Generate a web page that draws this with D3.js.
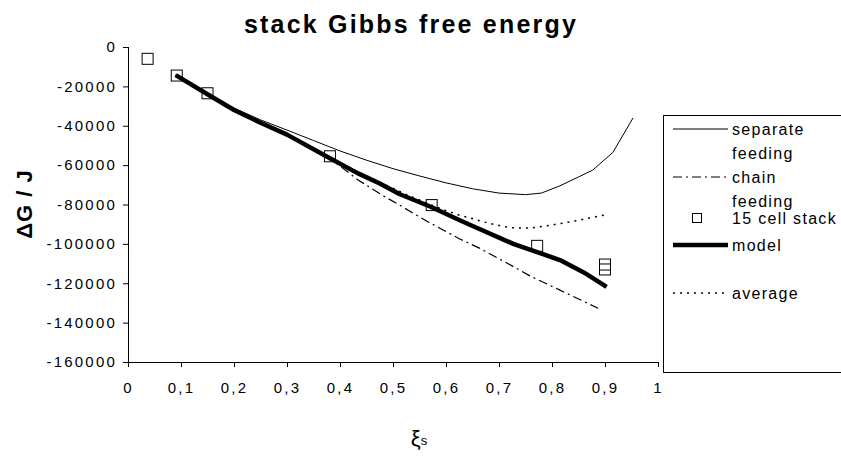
<!DOCTYPE html>
<html>
<head>
<meta charset="utf-8">
<script src="https://cdn.jsdelivr.net/npm/d3@7"></script>
<style>
  html, body { margin: 0; padding: 0; background: #fff; }
  svg { display: block; font-family: "Liberation Sans", Arial, sans-serif; }
</style>
</head>
<body>
<svg id="chart" width="841" height="456"></svg>
<script>
// ---- data ----
const sepXi = [0.09, 0.15, 0.2, 0.25, 0.3, 0.35, 0.4, 0.45, 0.5, 0.55, 0.6, 0.65, 0.7, 0.75, 0.78, 0.815, 0.85, 0.877, 0.915, 0.953];
const sepG  = [-14000, -23500, -31000, -37000, -42200, -47500, -52800, -57500, -61800, -65500, -69000, -72000, -74200, -75000, -74200, -70500, -66000, -62500, -53500, -36000];

const chainXi = [0.09, 0.15, 0.2, 0.3, 0.381, 0.4, 0.434, 0.481, 0.509, 0.564, 0.626, 0.664, 0.72, 0.76, 0.815, 0.887];
const chainG  = [-14200, -24000, -32000, -44000, -56500, -60500, -67500, -75500, -79800, -88500, -97500, -102300, -110500, -116500, -123500, -132700];

const stackXi = [0.037, 0.092, 0.15, 0.381, 0.573, 0.772, 0.9, 0.9];
const stackG  = [-6000, -14500, -23500, -55500, -80300, -101000, -110500, -113000];

const modelXi = [0.09, 0.15, 0.2, 0.25, 0.3, 0.381, 0.434, 0.475, 0.513, 0.57, 0.626, 0.645, 0.727, 0.765, 0.815, 0.86, 0.903];
const modelG  = [-14300, -24000, -32000, -38500, -44500, -56500, -64200, -69300, -74800, -81000, -88000, -90300, -100000, -103500, -108200, -114500, -121800];

const avgXi = [0.09, 0.15, 0.2, 0.3, 0.381, 0.47, 0.53, 0.589, 0.626, 0.645, 0.68, 0.721, 0.76, 0.809, 0.85, 0.9];
const avgG  = [-14300, -24000, -32000, -44500, -56500, -68000, -75500, -82000, -85500, -86800, -89500, -91800, -92000, -90000, -88000, -85300];

const xTicks = [0, 0.1, 0.2, 0.3, 0.4, 0.5, 0.6, 0.7, 0.8, 0.9, 1];
const xTickLabels = ["0", "0,1", "0,2", "0,3", "0,4", "0,5", "0,6", "0,7", "0,8", "0,9", "1"];
const yTicks = [0, -20000, -40000, -60000, -80000, -100000, -120000, -140000, -160000];
const yTickLabels = ["0", "-20000", "-40000", "-60000", "-80000", "-100000", "-120000", "-140000", "-160000"];

const legendLabels = [["separate", "feeding"], ["chain", "feeding"], ["15 cell stack"], ["model"], ["average"]];

// ---- layout ----
const svg = d3.select("#chart");
const x = d3.scaleLinear().domain([0, 1]).range([128, 658]);
const y = d3.scaleLinear().domain([-160000, 0]).range([362, 47]);

const zip = (xs, ys) => xs.map((v, i) => [v, ys[i]]);
const line = d3.line().x(d => x(d[0])).y(d => y(d[1]));

// title
svg.append("text")
  .attr("x", 411).attr("y", 33)
  .attr("text-anchor", "middle")
  .style("font-size", "25px").style("font-weight", "bold").style("letter-spacing", "2.2px")
  .text("stack Gibbs free energy");

// axes
const yAxis = d3.axisLeft(y).tickValues(yTicks).tickSize(5).tickPadding(6)
  .tickFormat((d, i) => yTickLabels[i]);
const gy = svg.append("g").attr("transform", "translate(128,0)").call(yAxis);
const xAxis = d3.axisBottom(x).tickValues(xTicks).tickSize(5).tickPadding(15)
  .tickFormat((d, i) => xTickLabels[i]);
const gx = svg.append("g").attr("transform", "translate(0,362)").call(xAxis);

[gx, gy].forEach(g => {
  g.select(".domain").attr("stroke", "#000").attr("stroke-width", 1);
  g.selectAll(".tick line").attr("stroke", "#000");
  g.selectAll("text").attr("fill", "#000")
    .style("font-family", "'Liberation Sans', Arial, sans-serif")
    .style("font-size", "15px").style("letter-spacing", "2.2px");
});
gy.selectAll(".domain").attr("d", "M0.5,47V362.5");
gx.selectAll(".domain").attr("d", "M128,0.5H658.5");

// axis titles
svg.append("text")
  .attr("transform", "translate(32,204) rotate(-90)")
  .attr("text-anchor", "middle")
  .style("font-size", "22px").style("font-weight", "bold").style("letter-spacing", "1px")
  .text("ΔG / J");

const xl = svg.append("text").attr("x", 419).attr("y", 446).attr("text-anchor", "middle");
xl.append("tspan").style("font-size", "22px").text("ξ");
xl.append("tspan").style("font-size", "13px").attr("dy", -1).text("s");

// series
const plot = svg.append("g");
plot.append("path").datum(zip(sepXi, sepG)).attr("d", line)
  .attr("fill", "none").attr("stroke", "#000").attr("stroke-width", 1);
plot.append("path").datum(zip(chainXi, chainG)).attr("d", line)
  .attr("fill", "none").attr("stroke", "#000").attr("stroke-width", 1.2)
  .attr("stroke-dasharray", "9,4,2,4");
plot.selectAll("rect.pt").data(zip(stackXi, stackG)).join("rect")
  .attr("class", "pt")
  .attr("x", d => x(d[0]) - 5.5).attr("y", d => y(d[1]) - 5.5)
  .attr("width", 11).attr("height", 11)
  .attr("fill", "none").attr("stroke", "#000").attr("stroke-width", 1);
plot.append("path").datum(zip(modelXi, modelG)).attr("d", line)
  .attr("fill", "none").attr("stroke", "#000").attr("stroke-width", 4.5)
  .attr("stroke-linejoin", "round");
plot.append("path").datum(zip(avgXi, avgG)).attr("d", line)
  .attr("fill", "none").attr("stroke", "#000").attr("stroke-width", 1.5)
  .attr("stroke-dasharray", "2,5");

// legend
const lg = svg.append("g");
lg.append("rect").attr("x", 663.5).attr("y", 115.5).attr("width", 200).attr("height", 257)
  .attr("fill", "#fff").attr("stroke", "#000").attr("stroke-width", 1);
const rows = [129, 177, 218, 245, 293];
const styles = [
  {w: 1, dash: null},
  {w: 1.2, dash: "9,4,2,4"},
  null,
  {w: 4.5, dash: null},
  {w: 1.5, dash: "2,5"}
];
rows.forEach((ry, i) => {
  if (styles[i]) {
    lg.append("line").attr("x1", 673).attr("x2", 728).attr("y1", ry).attr("y2", ry)
      .attr("stroke", "#000").attr("stroke-width", styles[i].w)
      .attr("stroke-dasharray", styles[i].dash);
  } else {
    lg.append("rect").attr("x", 692.5).attr("y", ry - 4.5).attr("width", 9).attr("height", 9)
      .attr("fill", "none").attr("stroke", "#000");
  }
  legendLabels[i].forEach((t, j) => {
    lg.append("text").attr("x", 732).attr("y", ry + 5.5 + j * 24)
      .style("font-size", "16px").style("letter-spacing", "1.3px")
      .text(t);
  });
});
</script>
</body>
</html>
